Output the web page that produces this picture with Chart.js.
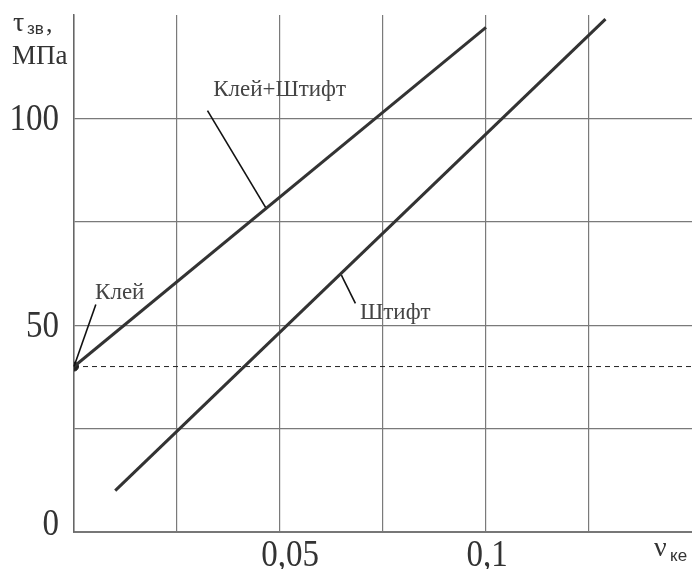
<!DOCTYPE html>
<html>
<head>
<meta charset="utf-8">
<script src="https://cdn.jsdelivr.net/npm/chart.js@4.4.0/dist/chart.umd.min.js"></script>
<style>
  html, body { margin: 0; padding: 0; background: #fff; overflow: hidden; }
  canvas { display: block; }
</style>
</head>
<body>
<canvas id="shearChart" width="692" height="569"></canvas>
<script>
// data (x = nu_ke, y = tau_zv in MPa)
const gluePinX = [0, 0.1];
const gluePinY = [40, 122];
const pinX = [0.01, 0.129];
const pinY = [10, 124];
const glueX = [0];
const glueY = [40];
const glueLevel = 40;
const xRange = [0, 0.15];
const yRange = [0, 125];
const yTickValues = [0, 50, 100];
const xTickValues = [0.05, 0.1];
const xTickLabels = ['0,05', '0,1'];

// callouts: label text, label position, leader line start/end (all in data units)
const callouts = [
    { text: 'Клей+Штифт', at: [0.0499, 106.8], from: [0.0324, 101.9], to: [0.0465, 78.5] },
    { text: 'Клей', at: [0.0111, 57.7], from: [0.0053, 55], to: [0, 40] },
    { text: 'Штифт', at: [0.078, 52.9], from: [0.0649, 62.1], to: [0.0683, 55.3] }
];

function toPoints(xs, ys) {
    return xs.map((x, i) => ({ x: x, y: ys[i] }));
}

// big serif numbers are a bit taller than normal in the picture
function tallText(c, text, x, y) {
    c.save();
    c.translate(x, y);
    c.scale(1, 1.15);
    c.fillText(text, 0, 0);
    c.restore();
}

// draws tick labels, axis titles and callouts as canvas text
const textPlugin = {
    id: 'textPlugin',
    afterDraw(chart) {
        const c = chart.ctx;
        const xs = chart.scales.x, ys = chart.scales.y;
        const area = chart.chartArea;
        c.save();

        // y tick labels
        c.fillStyle = '#333';
        c.font = '33px "Liberation Serif", serif';
        c.textAlign = 'right';
        c.textBaseline = 'middle';
        yTickValues.forEach(v => {
            let py = ys.getPixelForValue(v);
            if (v === 0) py -= 9;
            tallText(c, String(v), area.left - 15, py + 2);
        });

        // x tick labels
        c.textAlign = 'center';
        xTickValues.forEach((v, i) => {
            tallText(c, xTickLabels[i], xs.getPixelForValue(v) + (i === 0 ? 10 : 1), area.bottom + 24);
        });

        // y axis title: tau_zv, MPa
        c.textAlign = 'left';
        c.textBaseline = 'alphabetic';
        c.font = '28px "Liberation Serif", serif';
        c.fillText('τ', 13, 31);
        c.font = '17px "Liberation Sans", sans-serif';
        c.fillText('зв', 27, 34);
        c.font = '26px "Liberation Serif", serif';
        c.fillText(',', 46, 32);
        c.font = '27px "Liberation Serif", serif';
        c.fillText('МПа', 12, 64);

        // x axis title: nu_ke
        c.font = '28px "Liberation Serif", serif';
        c.fillText('ν', 654, 556);
        c.font = '17px "Liberation Sans", sans-serif';
        c.fillText('ке', 670, 561);

        // callouts
        c.font = '23px "Liberation Serif", serif';
        c.fillStyle = '#444';
        c.textAlign = 'center';
        c.textBaseline = 'middle';
        c.strokeStyle = '#111';
        c.lineWidth = 1.6;
        callouts.forEach(o => {
            c.fillText(o.text, xs.getPixelForValue(o.at[0]), ys.getPixelForValue(o.at[1]));
            c.beginPath();
            c.moveTo(xs.getPixelForValue(o.from[0]), ys.getPixelForValue(o.from[1]));
            c.lineTo(xs.getPixelForValue(o.to[0]), ys.getPixelForValue(o.to[1]));
            c.stroke();
        });
        c.restore();
    }
};

var ctx = document.getElementById('shearChart').getContext('2d');

var chart = new Chart(ctx, {
    type: 'scatter',
    data: {
        datasets: [{
            label: 'Клей+Штифт',
            data: toPoints(gluePinX, gluePinY),
            showLine: true,
            borderColor: '#333',
            borderWidth: 3,
            pointRadius: 0
        },
        {
            label: 'Штифт',
            data: toPoints(pinX, pinY),
            showLine: true,
            borderColor: '#333',
            borderWidth: 3,
            pointRadius: 0
        },
        {
            label: 'level',
            data: toPoints(xRange, [glueLevel, glueLevel]),
            showLine: true,
            borderColor: '#222',
            borderWidth: 1,
            borderDash: [5, 4],
            pointRadius: 0
        },
        {
            label: 'Клей',
            data: toPoints(glueX, glueY),
            pointRadius: 4.5,
            backgroundColor: '#222',
            borderColor: '#222'
        }]
    },
    options: {
        responsive: false,
        animation: false,
        layout: { autoPadding: false, padding: { left: 74, top: 15, right: 0, bottom: 37 } },
        plugins: {
            legend: { display: false },
            tooltip: { enabled: false }
        },
        scales: {
            x: {
                type: 'linear',
                min: xRange[0],
                max: xRange[1],
                ticks: { display: false, stepSize: 0.025 },
                grid: {
                    drawTicks: false,
                    color: (c) => (c.tick && c.tick.value > 0.14 ? 'rgba(0,0,0,0)' : '#7a7a7a'),
                    lineWidth: 1.2
                },
                border: { display: true, color: '#777', width: 2 }
            },
            y: {
                min: yRange[0],
                max: yRange[1],
                ticks: { display: false, stepSize: 25 },
                grid: {
                    drawTicks: false,
                    color: (c) => (c.tick && c.tick.value > 120 ? 'rgba(0,0,0,0)' : '#7a7a7a'),
                    lineWidth: 1.2
                },
                border: { display: true, color: '#666', width: 1.5 }
            }
        }
    },
    plugins: [textPlugin]
});
</script>
</body>
</html>
